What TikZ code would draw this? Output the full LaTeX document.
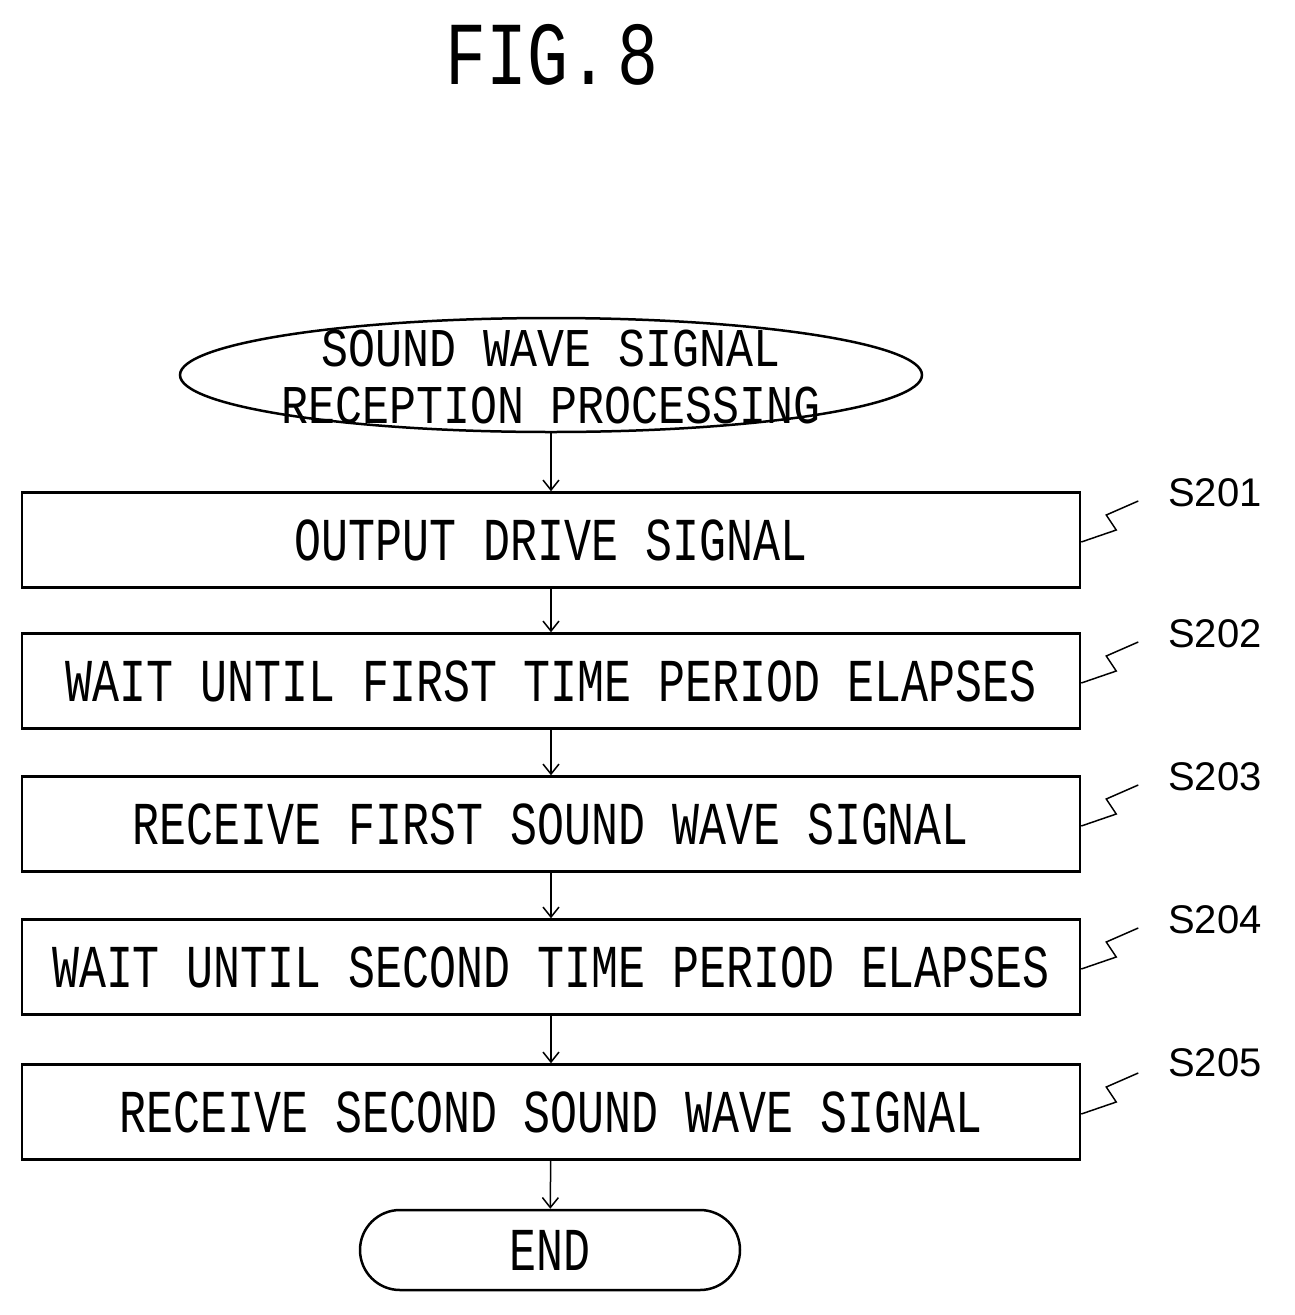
\documentclass[tikz,border=0pt]{standalone}
\usepackage{fontspec}
\setmonofont{Liberation Mono}
\setmainfont{Liberation Sans}
\usetikzlibrary{shapes.geometric,arrows.meta}
\newcommand\tx[1]{\scalebox{1.07}[1.45]{#1}}
\newcommand\txs[1]{\scalebox{1.07}[1.3]{#1}}
\begin{document}
\begin{tikzpicture}[x=1pt,y=-1pt,
  box/.style={draw,line width=2.5pt,minimum width=1058pt,minimum height=95pt,inner sep=0pt,font=\ttfamily\fontsize{42}{50}\selectfont},
  term/.style={inner sep=0pt,font=\ttfamily\fontsize{42}{50}\selectfont},
  arr/.style={-{Straight Barb[length=10pt,width=16pt]},line width=1.5pt},
  lab/.style={font=\fontsize{40}{48}\selectfont},
  sq/.style={line width=1.5pt}]
\useasboundingbox (0,0) rectangle (1294,1315);
\node[font=\ttfamily\fontsize{62}{70}\selectfont] (title) at (552,55) {\scalebox{1.1}[1.45]{FIG.\kern8pt 8}};
\node[term,minimum width=742pt,minimum height=114pt] (start) at (551,375) {};
\node[term] (t1) at (551,348) {\txs{SOUND WAVE SIGNAL}};
\node[term] (t2) at (551,405) {\txs{RECEPTION PROCESSING}};
\draw[line width=2.5pt] (start.center) ellipse (371pt and 57pt);
\node[box] (b1) at (551,540) {\tx{OUTPUT DRIVE SIGNAL}};
\node[box] (b2) at (551,681) {\tx{WAIT UNTIL FIRST TIME PERIOD ELAPSES}};
\node[box] (b3) at (551,824) {\tx{RECEIVE FIRST SOUND WAVE SIGNAL}};
\node[box] (b4) at (551,967) {\tx{WAIT UNTIL SECOND TIME PERIOD ELAPSES}};
\node[box] (b5) at (551,1112) {\tx{RECEIVE SECOND SOUND WAVE SIGNAL}};
\node[draw,line width=2.5pt,rounded corners=40pt,minimum width=380pt,minimum height=80pt,font=\ttfamily\fontsize{42}{50}\selectfont] (end) at (550,1250) {\tx{END}};
\draw[arr] (start) -- (b1);
\draw[arr] (b1) -- (b2);
\draw[arr] (b2) -- (b3);
\draw[arr] (b3) -- (b4);
\draw[arr] (b4) -- (b5);
\draw[arr] (b5) -- (end);
\foreach \i/\y in {1/493,2/634,3/777,4/920,5/1063}{
  \node[lab] (s\i) at (1215,\y) {S20\i};
  \coordinate (c\i) at ([yshift=-2pt]b\i.east);
  \draw[sq] (c\i) -- ++(35,-12) -- ++(-10,-15) -- ++(32,-14) ;
}
\end{tikzpicture}
\end{document}
